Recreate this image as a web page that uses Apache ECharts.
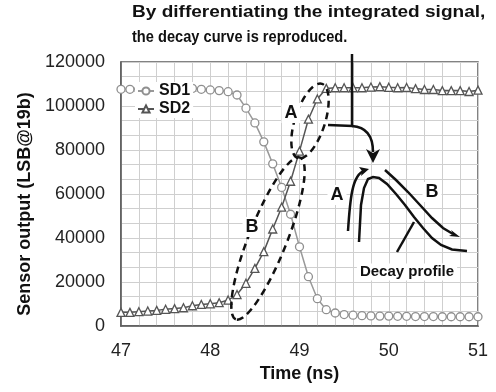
<!DOCTYPE html>
<html>
<head>
<meta charset="utf-8">
<script src="https://cdn.jsdelivr.net/npm/echarts@6/dist/echarts.min.js"></script>
<style>
  html, body { margin: 0; padding: 0; background: #fff; }
  #main { width: 496px; height: 392px; }
</style>
</head>
<body>
<div id="main"></div>
<script>
// time axis, ns
var times = [47.0, 47.1, 47.2, 47.3, 47.4, 47.5, 47.6, 47.7, 47.8, 47.9,
             48.0, 48.1, 48.2, 48.3, 48.4, 48.5, 48.6, 48.7, 48.8, 48.9,
             49.0, 49.1, 49.2, 49.3, 49.4, 49.5, 49.6, 49.7, 49.8, 49.9,
             50.0, 50.1, 50.2, 50.3, 50.4, 50.5, 50.6, 50.7, 50.8, 50.9, 51.0];

var sd1 = [107600, 107600, 107600, 107500, 107500, 107400, 107500, 107600, 108000, 107600,
           107300, 107000, 106500, 105000, 99000, 92300, 83700, 73700, 63000, 50800,
           36000, 22400, 12400, 7400, 5900, 5200, 4900, 4700, 4600, 4500,
           4500, 4400, 4400, 4300, 4300, 4300, 4200, 4200, 4200, 4200, 4200];

var sd2 = [6200, 6200, 6500, 6800, 7100, 7600, 7900, 8300, 9200, 9800,
           10100, 10600, 11800, 14300, 19400, 26200, 33800, 44100, 54000, 65800,
           79500, 94000, 103200, 108000, 108300, 108300, 108300, 108300, 108600, 108800,
           108500, 108300, 108400, 107900, 107500, 107500, 107000, 107000, 107000, 106600, 107200];

var seriesNames = ['SD1', 'SD2'];
var titleLines = ['By differentiating the integrated signal,', 'the decay curve is reproduced.'];

function pairs(vals) {
  return times.map(function (t, i) { return [t, vals[i]]; });
}

var FONT = '"Liberation Sans", Arial, sans-serif';
var chart = echarts.init(document.getElementById('main'));

var lbl = function (text, x, y, size) {
  return {
    type: 'text', z: 100, x: x, y: y,
    style: {
      text: text, font: 'bold ' + size + 'px ' + FONT, fill: '#111',
      align: 'center', verticalAlign: 'middle',
      backgroundColor: '#fff', padding: [1, 3]
    }
  };
};
var ln = { stroke: '#111', lineWidth: 2.5, fill: null };
var dash = { stroke: '#111', lineWidth: 2.5, fill: null, lineDash: [7, 5] };

chart.setOption({
  animation: false,
  grid: {
    left: 121, right: 18, top: 62, bottom: 66,
    show: true, borderColor: '#595959', borderWidth: 1.5
  },
  legend: {
    data: seriesNames,
    orient: 'vertical',
    left: 135, top: 82,
    itemWidth: 16, itemHeight: 9, itemGap: 2,
    padding: [1, 3, 1, 2],
    backgroundColor: '#fff',
    textStyle: { fontFamily: FONT, fontWeight: 'bold', fontSize: 16, color: '#111' }
  },
  xAxis: {
    type: 'value', min: 47, max: 51, interval: 1,
    name: 'Time (ns)', nameLocation: 'middle', nameGap: 38,
    nameTextStyle: { fontFamily: FONT, fontWeight: 'bold', fontSize: 18, color: '#111' },
    axisLine: { show: true, lineStyle: { color: '#595959', width: 1.5 } },
    axisTick: { show: false },
    axisLabel: { fontFamily: FONT, fontSize: 18, color: '#222', margin: 16 },
    splitLine: { show: true, lineStyle: { color: '#cfcfcf', width: 1 } },
    minorTick: { show: false, splitNumber: 5 },
    minorSplitLine: { show: true, lineStyle: { color: '#cfcfcf', width: 1 } }
  },
  yAxis: {
    type: 'value', min: 0, max: 120000, interval: 20000,
    name: 'Sensor output (LSB@19b)', nameLocation: 'middle', nameGap: 76,
    nameTextStyle: { fontFamily: FONT, fontWeight: 'bold', fontSize: 18, color: '#111', padding: [0, 20, 0, 0] },
    axisLine: { show: true, lineStyle: { color: '#595959', width: 1.5 } },
    axisTick: { show: false },
    axisLabel: { fontFamily: FONT, fontSize: 18, color: '#222', margin: 16,
                 formatter: function (v) { return String(v); } },
    splitLine: { show: true, lineStyle: { color: '#cfcfcf', width: 1 } },
    minorTick: { show: false, splitNumber: 3 },
    minorSplitLine: { show: true, lineStyle: { color: '#cfcfcf', width: 1 } }
  },
  series: [
    {
      name: seriesNames[0], type: 'line', data: pairs(sd1),
      symbol: 'circle', symbolSize: 8, showAllSymbol: true,
      lineStyle: { color: '#999', width: 1.5 },
      itemStyle: { color: '#fff', borderColor: '#8f8f8f', borderWidth: 1.3 }
    },
    {
      name: seriesNames[1], type: 'line', data: pairs(sd2),
      symbol: 'triangle', symbolSize: 8, showAllSymbol: true,
      lineStyle: { color: '#555', width: 1.5 },
      itemStyle: { color: '#fff', borderColor: '#555', borderWidth: 1.3 }
    }
  ],
  graphic: [
    // caption, each line squeezed/stretched to the widths in the picture
    { type: 'text', z: 100, x: 132, y: 4, scaleX: 1.12,
      style: { text: titleLines[0], font: 'bold 17px ' + FONT, fill: '#111' } },
    { type: 'text', z: 100, x: 132, y: 29, scaleX: 0.86,
      style: { text: titleLines[1], font: 'bold 17px ' + FONT, fill: '#111' } },
    // pointer from caption
    { type: 'line', z: 100, shape: { x1: 352, y1: 54, x2: 352, y2: 127 }, style: ln },
    { type: 'line', z: 100, shape: { x1: 328, y1: 125, x2: 353, y2: 126 }, style: ln },
    { type: 'bezierCurve', z: 100, shape: { x1: 352, y1: 126, cpx1: 366, cpy1: 127, cpx2: 373, cpy2: 136, x2: 373, y2: 152 }, style: ln },
    { type: 'polygon', z: 100, shape: { points: [[373, 163], [366, 149], [373, 153], [380, 149]] }, style: { fill: '#111' } },
    // dashed ellipses
    { type: 'ellipse', z: 100, x: 268, y: 238.5, rotation: 68.3 * Math.PI / 180,
      shape: { cx: 0, cy: 0, rx: 87, ry: 19 }, style: dash },
    { type: 'ellipse', z: 100, x: 310, y: 121, rotation: 72 * Math.PI / 180,
      shape: { cx: 0, cy: 0, rx: 39, ry: 15 }, style: dash },
    lbl('A', 291, 113, 18),
    lbl('B', 252, 227, 18),
    // inset sketch
    lbl('A', 337, 195, 18),
    lbl('B', 432, 192, 18),
    { type: 'bezierCurve', z: 100, shape: { x1: 348, y1: 231, cpx1: 350, cpy1: 200, cpx2: 352, cpy2: 175, x2: 364, y2: 171 }, style: ln },
    { type: 'polygon', z: 100, shape: { points: [[369, 169], [359, 167], [362, 171], [361, 176]] }, style: { fill: '#111' } },
    { type: 'polyline', z: 100, smooth: 0.35,
      shape: { points: [[359, 242], [361, 205], [364, 188], [368, 179], [373, 177], [379, 178], [387, 184],
                        [396, 194], [405, 205], [414, 217], [423, 228], [432, 238], [441, 245], [452, 249.5], [467, 251]] },
      style: ln },
    { type: 'polyline', z: 100, smooth: 0.3,
      shape: { points: [[385, 170], [396, 180], [408, 192], [420, 205], [432, 218], [443, 228], [453, 234]] },
      style: ln },
    { type: 'polygon', z: 100, shape: { points: [[460, 237], [449, 236], [453, 234], [451, 230]] }, style: { fill: '#111' } },
    { type: 'line', z: 100, shape: { x1: 397, y1: 252, x2: 414, y2: 222 }, style: ln },
    lbl('Decay profile', 407, 272, 15)
  ]
});
</script>
</body>
</html>
